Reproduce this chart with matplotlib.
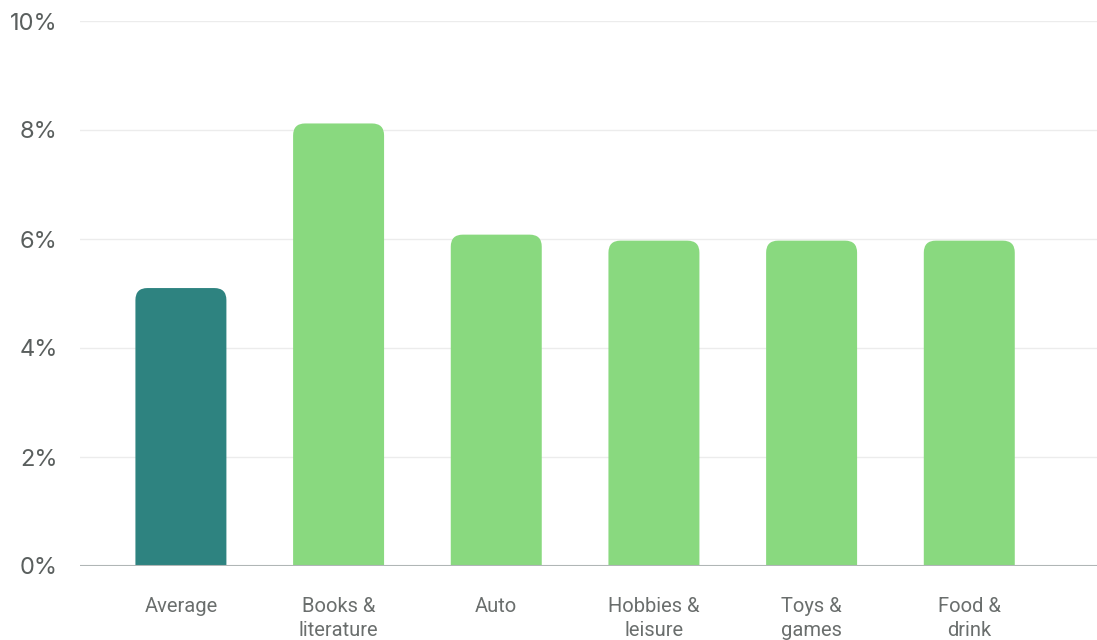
import matplotlib.pyplot as plt
from matplotlib.patches import FancyBboxPatch

categories = ['Average', 'Books &\nliterature', 'Auto', 'Hobbies &\nleisure', 'Toys &\ngames', 'Food &\ndrink']
rates = [5.1, 8.12, 6.08, 5.97, 5.97, 5.97]
colors = ['#2e8380', '#89d97f', '#89d97f', '#89d97f', '#89d97f', '#89d97f']
yticks = [0, 2, 4, 6, 8, 10]

fig = plt.figure(figsize=(10.97, 6.40), dpi=100)
ax = fig.add_axes([80 / 1097, (640 - 566) / 640, 1017 / 1097, 545 / 640])

ax.set_xlim(-0.64, 5.81)
ax.set_ylim(0, 10)

bars = ax.bar(range(len(categories)), rates, width=0.577, color=colors)
# swap the square bars for ones with rounded tops
xr = 12 / 157.6
yr = 12 / 54.5
for b in bars:
    x, w, h = b.get_x(), b.get_width(), b.get_height()
    p = FancyBboxPatch((x, -1), w, h + 1,
                       boxstyle=f'round,pad=0,rounding_size={xr}',
                       mutation_aspect=yr / xr,
                       facecolor=b.get_facecolor(), edgecolor='none', zorder=3)
    ax.add_patch(p)
    b.remove()

ax.set_yticks(yticks)
ax.set_yticklabels([f'{t}%' for t in yticks], fontsize=17, color='#5a5f5e', family='Inter')
ax.grid(axis='y', color='#ececec', linewidth=1, zorder=0)
ax.axhline(0, color='#b0b6b6', linewidth=1.5, zorder=4)
ax.tick_params(axis='y', length=0, pad=16)
ax.tick_params(axis='x', length=0, pad=22)
ax.set_xticks(range(len(categories)))
ax.set_xticklabels(categories, fontsize=14.5, color='#6a6e6d', family='Roboto',
                   linespacing=1.35, va='top')
for s in ax.spines.values():
    s.set_visible(False)

fig.savefig('out.png', dpi=100)
